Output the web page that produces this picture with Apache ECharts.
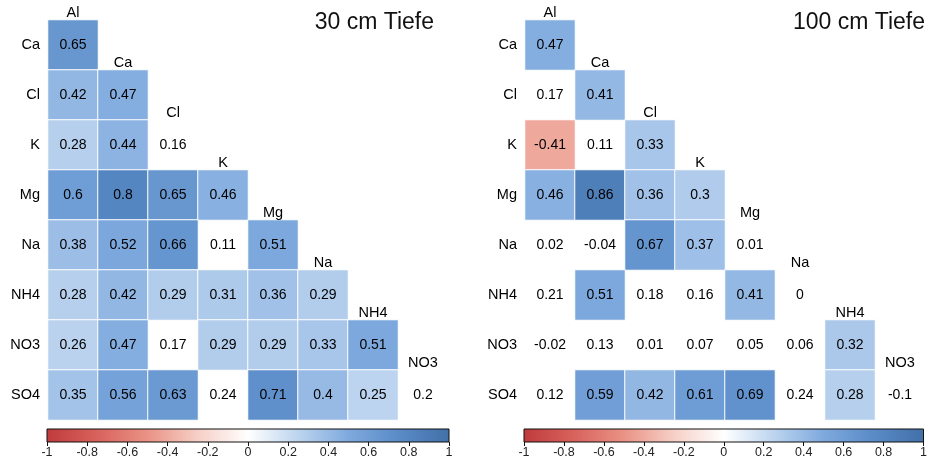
<!DOCTYPE html>
<html>
<head>
<meta charset="utf-8">
<script src="https://cdn.jsdelivr.net/npm/echarts@6/dist/echarts.min.js"></script>
<style>
  html, body { margin: 0; padding: 0; background: #fff; }
  #main { width: 930px; height: 470px; }
</style>
</head>
<body>
<div id="main"></div>
<script>
// Zeilen und Spalten der Korrelationsmatrix
const rowNames = ['Ca', 'Cl', 'K', 'Mg', 'Na', 'NH4', 'NO3', 'SO4'];
const colNames = ['Al', 'Ca', 'Cl', 'K', 'Mg', 'Na', 'NH4', 'NO3'];

// 30 cm Tiefe (untere Dreiecksmatrix, zeilenweise)
const vals30 = [
  [0.65],
  [0.42, 0.47],
  [0.28, 0.44, 0.16],
  [0.6, 0.8, 0.65, 0.46],
  [0.38, 0.52, 0.66, 0.11, 0.51],
  [0.28, 0.42, 0.29, 0.31, 0.36, 0.29],
  [0.26, 0.47, 0.17, 0.29, 0.29, 0.33, 0.51],
  [0.35, 0.56, 0.63, 0.24, 0.71, 0.4, 0.25, 0.2]
];
// 1 = farbig (signifikant), 0 = nur Zahl
const sig30 = [
  [1],
  [1, 1],
  [1, 1, 0],
  [1, 1, 1, 1],
  [1, 1, 1, 0, 1],
  [1, 1, 1, 1, 1, 1],
  [1, 1, 0, 1, 1, 1, 1],
  [1, 1, 1, 0, 1, 1, 1, 0]
];

// 100 cm Tiefe
const vals100 = [
  [0.47],
  [0.17, 0.41],
  [-0.41, 0.11, 0.33],
  [0.46, 0.86, 0.36, 0.3],
  [0.02, -0.04, 0.67, 0.37, 0.01],
  [0.21, 0.51, 0.18, 0.16, 0.41, 0],
  [-0.02, 0.13, 0.01, 0.07, 0.05, 0.06, 0.32],
  [0.12, 0.59, 0.42, 0.61, 0.69, 0.24, 0.28, -0.1]
];
const sig100 = [
  [1],
  [0, 1],
  [1, 0, 1],
  [1, 1, 1, 1],
  [0, 0, 1, 1, 0],
  [0, 1, 0, 0, 1, 0],
  [0, 0, 0, 0, 0, 0, 1],
  [0, 1, 1, 1, 1, 0, 1, 0]
];

const titles = ['30 cm Tiefe', '100 cm Tiefe'];

// Farbskala von -1 bis 1
const scaleStops = [-1, -0.75, -0.5, -0.25, 0, 0.25, 0.5, 0.75, 1];
const scaleColors = ['#bf3b3b', '#d8625c', '#ea9285', '#f6cfc6', '#ffffff',
                     '#bcd4ef', '#7ea9de', '#598bc7', '#4270a8'];

const font = 'Liberation Sans, Arial, sans-serif';

function splitData(vals, sig) {
  const on = [], off = [];
  vals.forEach(function (row, i) {
    row.forEach(function (v, j) {
      (sig[i][j] ? on : off).push([j, i, v]);
    });
  });
  return { on: on, off: off };
}

const chart = echarts.init(document.getElementById('main'));

const d30 = splitData(vals30, sig30);
const d100 = splitData(vals100, sig100);

const gridsLeft = [48, 525];
const grids = [];
const xAxes = [];
const yAxes = [];
const series = [];
const titleList = [];

const cellLabel = {
  show: true,
  color: '#000',
  fontSize: 14,
  fontFamily: font,
  formatter: function (p) { return String(p.value[2]); }
};

[d30, d100].forEach(function (d, k) {
  // Heatmap-Raster
  grids.push({ left: gridsLeft[k], top: 20, width: 400, height: 400 });
  xAxes.push({
    type: 'category', gridIndex: k, data: colNames,
    axisLine: { show: false }, axisTick: { show: false },
    axisLabel: { show: false }, splitLine: { show: false }
  });
  yAxes.push({
    type: 'category', gridIndex: k, data: rowNames, inverse: true,
    axisLine: { show: false }, axisTick: { show: false },
    axisLabel: { color: '#000', fontSize: 14.5, fontFamily: font, margin: 8 },
    splitLine: { show: false }
  });
  series.push({
    type: 'heatmap', xAxisIndex: k, yAxisIndex: k,
    data: d.on,
    itemStyle: { borderColor: '#fff', borderWidth: 1 },
    label: cellLabel,
    emphasis: { disabled: true }
  });
  series.push({
    type: 'scatter', xAxisIndex: k, yAxisIndex: k,
    data: d.off, symbolSize: 0,
    itemStyle: { opacity: 1 },
    label: Object.assign({ position: 'inside' }, cellLabel),
    silent: true
  });
  // Spaltenbeschriftung über der Diagonale
  series.push({
    type: 'scatter', xAxisIndex: k, yAxisIndex: k,
    data: colNames.map(function (c, j) { return [j, j, c]; }),
    symbolSize: 0,
    itemStyle: { opacity: 1 },
    label: {
      show: true, position: 'top', distance: 25,
      color: '#000', fontSize: 14.5, fontFamily: font,
      formatter: function (p) { return p.value[2]; }
    },
    silent: true
  });
});

// Farbbalken
[0, 1].forEach(function (k) {
  grids.push({
    left: gridsLeft[k] - 1, top: 429, width: 402, height: 13,
    show: true, borderColor: '#111', borderWidth: 1,
    backgroundColor: new echarts.graphic.LinearGradient(0, 0, 1, 0,
      scaleStops.map(function (s, i) {
        return { offset: (s + 1) / 2, color: scaleColors[i] };
      }))
  });
  xAxes.push({
    type: 'value', gridIndex: 2 + k, min: -1, max: 1, interval: 0.2,
    axisLine: { show: false },
    axisTick: { show: true, length: 4, lineStyle: { color: '#111' } },
    splitLine: { show: false },
    axisLabel: {
      color: '#222', fontSize: 12.5, fontFamily: font, margin: 4,
      formatter: function (v) { return String(Math.round(v * 10) / 10); }
    }
  });
  yAxes.push({ type: 'value', gridIndex: 2 + k, min: 0, max: 1, show: false });
});

titleList.push({
  text: titles[0], right: 496, top: 11, padding: 0,
  textStyle: { fontSize: 23, fontWeight: 'normal', color: '#111', fontFamily: font }
});
titleList.push({
  text: titles[1], right: 5, top: 11, padding: 0,
  textStyle: { fontSize: 23, fontWeight: 'normal', color: '#111', fontFamily: font }
});

const option = {
  backgroundColor: '#fff',
  animation: false,
  title: titleList,
  grid: grids,
  xAxis: xAxes,
  yAxis: yAxes,
  visualMap: {
    show: false,
    type: 'continuous',
    min: -1, max: 1,
    seriesIndex: [0, 3],
    inRange: { color: scaleColors }
  },
  series: series
};

chart.setOption(option);
</script>
</body>
</html>
